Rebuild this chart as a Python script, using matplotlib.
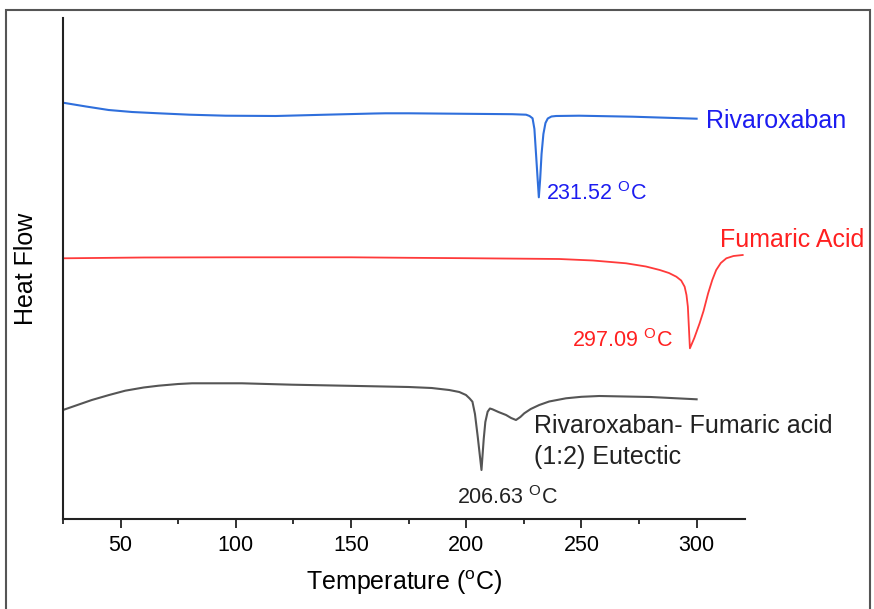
import matplotlib
matplotlib.use('Agg')
import matplotlib.pyplot as plt
from matplotlib.patches import Rectangle
from matplotlib.ticker import MultipleLocator

plt.rcParams['font.family'] = ['Liberation Sans', 'DejaVu Sans']
plt.rcParams['mathtext.fontset'] = 'custom'
plt.rcParams['mathtext.rm'] = 'Liberation Sans'

# DSC traces (temperature in degC, heat flow in arbitrary offset units)
riva_T = [25, 35, 44.8, 55, 66.5, 80, 95.6, 117.4, 139, 160, 165, 175, 200, 220,
          226, 227.5, 228.8, 229.6, 230.3, 231.0, 231.52, 232.1, 232.7, 233.5,
          234.4, 235.4, 237, 239, 249, 272.3, 300]
riva_hf = [416.3, 412.5, 409, 407, 405.7, 404.3, 403.3, 403, 404.3, 405.5, 405.7,
           405.7, 405.2, 404.8, 404.3, 403, 400.7, 390, 365, 340, 321.7, 340, 365,
           385, 396, 400.5, 402.5, 403, 403.3, 402.3, 400.3]

fum_T = [25, 60, 100, 150, 175, 200, 240.4, 255, 269.4, 278, 284, 288, 291.2,
         293.3, 294.8, 295.6, 296.2, 296.7, 297.09, 299, 301.3, 303, 305, 306.8,
         308.5, 310.5, 312.9, 316, 320]
fum_hf = [260.7, 261.5, 261.7, 261.7, 261.2, 260.8, 260, 258.5, 255.7, 252.5, 249,
          246, 242.3, 238.5, 232.3, 224, 212.3, 189, 170.7, 181, 195.7, 208, 225.7,
          239, 249, 256, 260.7, 263, 264]

eut_T = [25, 30, 37.5, 45, 52, 60, 66.5, 75, 81, 102.7, 124.5, 153.5, 175, 185,
         192.6, 197, 199.9, 201.5, 202.7, 203.8, 205, 206.63, 207.6, 208.3, 209.3,
         210.3, 211.4, 214, 217.3, 219.5, 221.6, 223.5, 225.2, 228, 231.7, 236,
         243.3, 250, 257.8, 280, 300]
eut_hf = [109, 113, 119, 124, 128.3, 131.5, 133.3, 135, 135.7, 135.7, 134.3, 133,
          132, 131, 129, 127, 124, 120.5, 117.3, 105, 82.3, 49, 80, 97, 107.3,
          110.5, 109.7, 107, 104, 101, 99, 102, 105.7, 110, 114, 117.5, 120.7,
          122.2, 123, 122, 119.7]

peaks = [231.52, 297.09, 206.63]

fig = plt.figure(figsize=(8.74, 6.09), dpi=100)
ax = fig.add_axes([63 / 874, 90 / 609, 682 / 874, 501 / 609])

ax.plot(riva_T, riva_hf, color='#2f6fdc', lw=1.5)
ax.plot(fum_T, fum_hf, color='#ff3a3a', lw=1.3)
ax.plot(eut_T, eut_hf, color='#555555', lw=1.5)

ax.set_xlim(25, 321)
ax.set_ylim(0, 501)

# curve names
ax.text(303.9, 391, 'Rivaroxaban', color='#1c1cf0', fontsize=18, va='baseline')
ax.text(310, 272, 'Fumaric Acid', color='#ff2020', fontsize=18, va='baseline')
ax.text(229.6, 86, 'Rivaroxaban- Fumaric acid', color='#222222', fontsize=18, va='baseline')
ax.text(229.6, 55, '(1:2) Eutectic', color='#222222', fontsize=18, va='baseline')

# peak temperatures
ax.text(peaks[0] + 3.2, 319, f'{peaks[0]:.2f} $^{{\\mathrm{{O}}}}$C', color='#1c1cf0',
        fontsize=15.5, va='baseline')
ax.text(peaks[1] - 7.5, 172, f'{peaks[1]:.2f} $^{{\\mathrm{{O}}}}$C', color='#ff2020',
        fontsize=15.5, va='baseline', ha='right')
ax.text(peaks[2] - 10.5, 15, f'{peaks[2]:.2f} $^{{\\mathrm{{O}}}}$C', color='#222222',
        fontsize=15.5, va='baseline')

for s in ['top', 'right']:
    ax.spines[s].set_visible(False)
for s in ['left', 'bottom']:
    ax.spines[s].set_linewidth(1.5)
    ax.spines[s].set_color('#222222')

ax.set_yticks([])
ax.xaxis.set_major_locator(MultipleLocator(50))
ax.xaxis.set_minor_locator(MultipleLocator(25))
ax.tick_params(axis='x', which='major', direction='out', length=6.5, width=1.3,
               labelsize=15.5, pad=5, color='#222222')
ax.tick_params(axis='x', which='minor', direction='out', length=3.3, width=1.3,
               color='#222222')

ax.set_xlabel('Temperature ($^{\\mathrm{o}}$C)', fontsize=18, labelpad=9)
ax.set_ylabel('Heat Flow', fontsize=18, labelpad=18)

# frame around the whole figure
fig.add_artist(Rectangle((6 / 874, -0.05), 864 / 874, 1.05 - 10 / 609,
                         transform=fig.transFigure, fill=False,
                         edgecolor='#555555', lw=1.5))

fig.savefig('out.png', dpi=100)
